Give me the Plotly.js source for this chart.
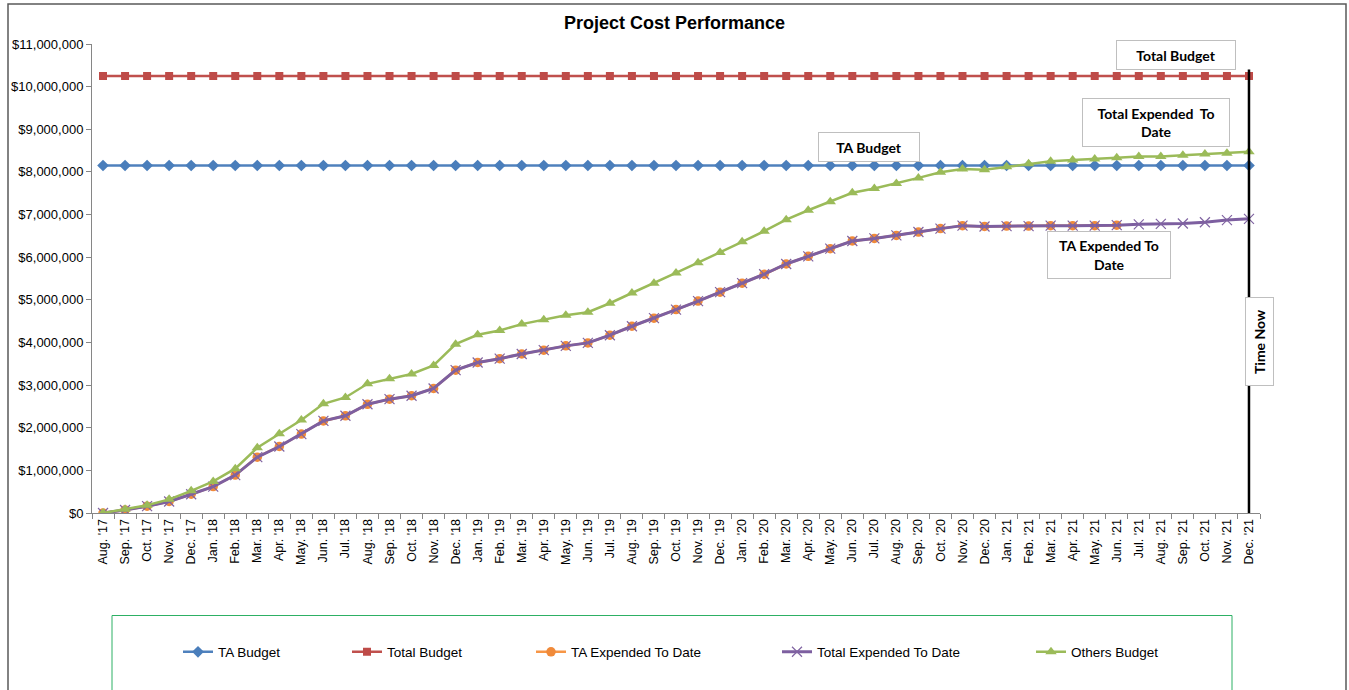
<!DOCTYPE html>
<html>
<head>
<meta charset="utf-8">
<script src="https://cdn.plot.ly/plotly-3.0.1.min.js"></script>
<style>
  html, body { margin: 0; padding: 0; background: #ffffff; }
  #chart { width: 1349px; height: 690px; }
</style>
</head>
<body>
<div id="chart"></div>
<script>
// ---------- DATA ----------
const months = [
  "Aug. '17", "Sep. '17", "Oct. '17", "Nov. '17", "Dec. '17",
  "Jan. '18", "Feb. '18", "Mar. '18", "Apr. '18", "May. '18", "Jun. '18",
  "Jul. '18", "Aug. '18", "Sep. '18", "Oct. '18", "Nov. '18", "Dec. '18",
  "Jan. '19", "Feb. '19", "Mar. '19", "Apr. '19", "May. '19", "Jun. '19",
  "Jul. '19", "Aug. '19", "Sep. '19", "Oct. '19", "Nov. '19", "Dec. '19",
  "Jan. '20", "Feb. '20", "Mar. '20", "Apr. '20", "May. '20", "Jun. '20",
  "Jul. '20", "Aug. '20", "Sep. '20", "Oct. '20", "Nov. '20", "Dec. '20",
  "Jan. '21", "Feb. '21", "Mar. '21", "Apr. '21", "May. '21", "Jun. '21",
  "Jul. '21", "Aug. '21", "Sep. '21", "Oct. '21", "Nov. '21", "Dec. '21"
];

const taBudget = [
  8150000, 8150000, 8150000, 8150000, 8150000, 8150000, 8150000, 8150000, 8150000, 8150000,
  8150000, 8150000, 8150000, 8150000, 8150000, 8150000, 8150000, 8150000, 8150000, 8150000,
  8150000, 8150000, 8150000, 8150000, 8150000, 8150000, 8150000, 8150000, 8150000, 8150000,
  8150000, 8150000, 8150000, 8150000, 8150000, 8150000, 8150000, 8150000, 8150000, 8150000,
  8150000, 8150000, 8150000, 8150000, 8150000, 8150000, 8150000, 8150000, 8150000, 8150000,
  8150000, 8150000, 8150000
];

const totalBudget = [
  10250000, 10250000, 10250000, 10250000, 10250000, 10250000, 10250000, 10250000, 10250000, 10250000,
  10250000, 10250000, 10250000, 10250000, 10250000, 10250000, 10250000, 10250000, 10250000, 10250000,
  10250000, 10250000, 10250000, 10250000, 10250000, 10250000, 10250000, 10250000, 10250000, 10250000,
  10250000, 10250000, 10250000, 10250000, 10250000, 10250000, 10250000, 10250000, 10250000, 10250000,
  10250000, 10250000, 10250000, 10250000, 10250000, 10250000, 10250000, 10250000, 10250000, 10250000,
  10250000, 10250000, 10250000
];

const taExpended = [
  0, 70000, 160000, 270000, 440000, 620000, 890000, 1310000, 1560000, 1850000,
  2160000, 2280000, 2550000, 2670000, 2750000, 2920000, 3350000, 3530000, 3620000, 3730000,
  3820000, 3920000, 3990000, 4170000, 4380000, 4570000, 4770000, 4970000, 5180000, 5390000,
  5600000, 5840000, 6020000, 6200000, 6380000, 6440000, 6510000, 6590000, 6670000, 6740000,
  6720000, 6730000, 6730000, 6740000, 6740000, 6740000, 6750000, null, null, null,
  null, null, null
];

const totalExpended = [
  0, 70000, 160000, 270000, 440000, 620000, 890000, 1310000, 1560000, 1850000,
  2160000, 2280000, 2550000, 2670000, 2750000, 2920000, 3350000, 3530000, 3620000, 3730000,
  3820000, 3920000, 3990000, 4170000, 4380000, 4570000, 4770000, 4970000, 5180000, 5390000,
  5600000, 5840000, 6020000, 6200000, 6380000, 6440000, 6510000, 6590000, 6670000, 6740000,
  6720000, 6730000, 6730000, 6740000, 6740000, 6740000, 6750000, 6770000, 6780000, 6790000,
  6820000, 6870000, 6900000
];

const othersBudget = [
  0, 90000, 180000, 320000, 520000, 740000, 1040000, 1530000, 1860000, 2180000,
  2560000, 2710000, 3030000, 3150000, 3260000, 3460000, 3960000, 4180000, 4280000, 4430000,
  4530000, 4640000, 4710000, 4920000, 5160000, 5390000, 5630000, 5870000, 6110000, 6360000,
  6610000, 6880000, 7100000, 7300000, 7510000, 7610000, 7730000, 7860000, 7990000, 8070000,
  8050000, 8120000, 8190000, 8250000, 8280000, 8300000, 8330000, 8360000, 8360000, 8390000,
  8420000, 8440000, 8470000
];

const seriesNames = ["TA Budget", "Total Budget", "TA Expended To Date", "Total Expended To Date", "Others Budget"];
const timeNowLabel = "Time Now";

// ---------- GEOMETRY HELPERS (pixel -> paper) ----------
const W = 1349, H = 690;
const M = { l: 92, r: 89, t: 44, b: 177 };
const PW = W - M.l - M.r, PH = H - M.t - M.b;
const px = v => (v - M.l) / PW;
const py = v => (H - M.b - v) / PH;

const legendFont = { family: "Arial, 'Liberation Sans', sans-serif", size: 13.5, color: "#000000" };
function legendAt(symbolStartPx) {
  return {
    x: px(symbolStartPx - 10), xanchor: "left",
    y: py(652), yanchor: "middle",
    orientation: "h", bgcolor: "rgba(0,0,0,0)", borderwidth: 0,
    font: legendFont, itemwidth: 30
  };
}

const traces = [
  {
    x: months, y: taBudget, name: seriesNames[0], type: "scatter", mode: "lines+markers",
    line: { color: "#4F81BD", width: 2.5 },
    marker: { symbol: "diamond", size: 9, color: "#4A7EBB" },
    legend: "legend"
  },
  {
    x: months, y: totalBudget, name: seriesNames[1], type: "scatter", mode: "lines+markers",
    line: { color: "#C0504D", width: 2.5 },
    marker: { symbol: "square", size: 8, color: "#BE4B48" },
    legend: "legend2"
  },
  {
    x: months, y: taExpended, name: seriesNames[2], type: "scatter", mode: "lines+markers",
    line: { color: "#F79646", width: 2.5 },
    marker: { symbol: "circle", size: 9.5, color: "#F08A3A" },
    legend: "legend3"
  },
  {
    x: months, y: totalExpended, name: seriesNames[3], type: "scatter", mode: "lines+markers",
    line: { color: "#7D5FA0", width: 3 },
    marker: { symbol: "x-thin", size: 10, color: "#8064A2", line: { color: "#8064A2", width: 1.2 } },
    legend: "legend4"
  },
  {
    x: months, y: othersBudget, name: seriesNames[4], type: "scatter", mode: "lines+markers",
    line: { color: "#9BBB59", width: 2.5 },
    marker: { symbol: "triangle-up", size: 10, color: "#9BBB59" },
    legend: "legend5"
  }
];

const boxFont = { family: "Lato, 'Open Sans', sans-serif", size: 14, color: "#000000" };
function box(text, cx, cy, w, h, angle) {
  return {
    xref: "paper", yref: "paper", x: px(cx), y: py(cy),
    xanchor: "center", yanchor: "middle",
    text: "<b>" + text + "</b>", showarrow: false,
    font: boxFont, bgcolor: "#ffffff",
    bordercolor: "#bfbfbf", borderwidth: 1, borderpad: 0,
    width: w, height: h, textangle: angle || 0, align: "center"
  };
}

const layout = {
  width: W, height: H,
  margin: { l: M.l, r: M.r, t: M.t, b: M.b, pad: 0 },
  paper_bgcolor: "#ffffff", plot_bgcolor: "#ffffff",
  font: { family: "Arial, 'Liberation Sans', sans-serif", size: 13, color: "#000000" },
  title: {
    text: "<b>Project Cost Performance</b>",
    font: { family: "Arial, 'Liberation Sans', sans-serif", size: 18, color: "#000000" },
    xref: "container", yref: "container", x: 0.5, xanchor: "center",
    y: 1 - 23 / H, yanchor: "middle"
  },
  xaxis: {
    type: "category", range: [-0.5, months.length - 0.5],
    showgrid: false, zeroline: false,
    showline: true, linecolor: "#868686", linewidth: 1,
    ticks: "outside", ticklen: 5, tickcolor: "#868686", tickson: "boundaries",
    tickangle: -90, tickfont: { family: "Arial, 'Liberation Sans', sans-serif", size: 12.5, color: "#000000" },
    fixedrange: true
  },
  yaxis: {
    range: [0, 11000000], dtick: 1000000, tick0: 0,
    tickformat: "$,.0f",
    showgrid: false, zeroline: false,
    showline: true, linecolor: "#868686", linewidth: 1,
    ticks: "outside", ticklen: 5, tickcolor: "#868686",
    tickfont: { family: "Arial, 'Liberation Sans', sans-serif", size: 13, color: "#000000" },
    fixedrange: true
  },
  showlegend: true,
  legend: legendAt(188),
  legend2: legendAt(357),
  legend3: legendAt(541),
  legend4: legendAt(787),
  legend5: legendAt(1041),
  shapes: [
    // outer chart border
    { type: "rect", xref: "paper", yref: "paper",
      x0: px(8), x1: px(1346), y0: py(705), y1: py(4),
      line: { color: "#595959", width: 1.5 }, fillcolor: "rgba(0,0,0,0)", layer: "below" },
    // legend frame
    { type: "rect", xref: "paper", yref: "paper",
      x0: px(112), x1: px(1232), y0: py(700), y1: py(615.5),
      line: { color: "#2DB064", width: 1 }, fillcolor: "rgba(0,0,0,0)", layer: "below" },
    // Time Now line
    { type: "line", xref: "x", yref: "y",
      x0: months.length - 1, x1: months.length - 1, y0: 0, y1: 10400000,
      line: { color: "#000000", width: 2.5 }, layer: "above" }
  ],
  annotations: [
    box("Total Budget", 1176, 55, 118, 28),
    box("Total Expended&nbsp; To<br>Date", 1156, 122.5, 146, 47),
    box("TA Budget", 869, 147, 100, 28),
    box("TA Expended To<br>Date", 1109, 255, 122, 46),
    box(timeNowLabel, 1259.5, 341.5, 87, 27, -90)
  ]
};

Plotly.newPlot("chart", traces, layout, { displayModeBar: false, staticPlot: true });
</script>
</body>
</html>
